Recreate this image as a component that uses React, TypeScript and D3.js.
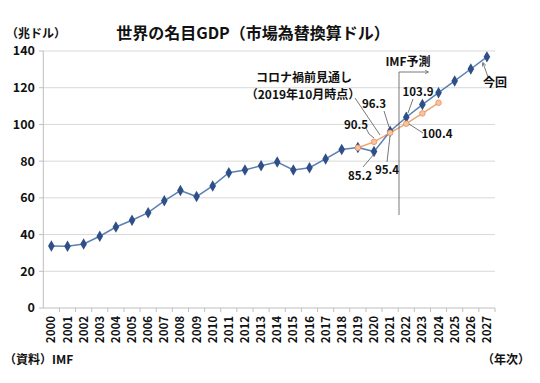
import React from "react";
import * as d3 from "d3";

const years = ["2000","2001","2002","2003","2004","2005","2006","2007","2008","2009","2010","2011","2012","2013","2014","2015","2016","2017","2018","2019","2020","2021","2022","2023","2024","2025","2026","2027"];
const currentValues = [33.8,33.6,34.9,39.1,44.1,47.8,51.9,58.4,64.0,60.7,66.5,73.7,75.2,77.5,79.5,75.2,76.4,81.2,86.3,87.4,85.2,96.3,103.9,110.8,117.3,123.7,130.2,136.8];
const preCovidYears = ["2019","2020","2021","2022","2023","2024"];
const preCovidValues = [87.3,90.5,95.4,100.4,106.0,111.8];
const yTicks = [0,20,40,60,80,100,120,140];

const FONT = "'Noto Sans CJK JP', 'Noto Sans', sans-serif";

export default function App() {
  const W = 540, H = 383;
  const x = d3.scaleBand<string>().domain(years).range([43.3, 495]);
  const y = d3.scaleLinear().domain([0, 140]).range([308, 51]);
  const cx = (yr: string) => (x(yr) as number) + x.bandwidth() / 2;

  const line = d3.line<[string, number]>().x(d => cx(d[0])).y(d => y(d[1]));
  const cur: [string, number][] = years.map((yr, i) => [yr, currentValues[i]]);
  const pre: [string, number][] = preCovidYears.map((yr, i) => [yr, preCovidValues[i]]);
  const diamond = d3.symbol().type(d3.symbolDiamond).size(38)() as string;

  const lbl = { fontFamily: FONT, fontSize: 11.5, fontWeight: 700, fill: "#111" } as const;
  const lead = { stroke: "#555", strokeWidth: 0.8, fill: "none" } as const;

  return (
    <svg width={W} height={H} style={{ position: "absolute", left: 0, top: 0, background: "#fff" }}>
      <defs>
        <marker id="arr" viewBox="0 0 6 6" refX="5" refY="3" markerWidth="5" markerHeight="5" orient="auto">
          <path d="M0,0 L6,3 L0,6" fill="none" stroke="#555" strokeWidth="1" />
        </marker>
      </defs>
      {/* gridlines */}
      {yTicks.filter(t => t > 0).map(t => (
        <line key={t} x1={43.3} x2={495} y1={y(t)} y2={y(t)} stroke="#d9d9d9" strokeWidth={1} />
      ))}
      {/* axes */}
      <line x1={43.3} x2={43.3} y1={51} y2={308} stroke="#bfbfbf" />
      <line x1={43.3} x2={495} y1={308} y2={308} stroke="#bfbfbf" />
      {yTicks.map(t => (
        <g key={t}>
          <line x1={39} x2={43.3} y1={y(t)} y2={y(t)} stroke="#bfbfbf" />
          <text x={35} y={y(t)} dy="0.35em" textAnchor="end" style={{ fontFamily: FONT, fontSize: 12.5, fontWeight: 600, fill: "#111" }}>{t}</text>
        </g>
      ))}
      {years.map(yr => (
        <g key={yr}>
          <line x1={(x(yr) as number) + x.bandwidth()} x2={(x(yr) as number) + x.bandwidth()} y1={308} y2={312} stroke="#bfbfbf" />
          <text transform={`translate(${cx(yr)},316) rotate(-90)`} dy="0.35em" textAnchor="end" style={{ fontFamily: FONT, fontSize: 11.5, fontWeight: 600, fill: "#111" }}>{yr}</text>
        </g>
      ))}

      {/* series */}
      <path d={line(pre) as string} stroke="#f0a36e" strokeWidth={1.5} fill="none" />
      <path d={line(cur) as string} stroke="#5a80b4" strokeWidth={1.5} fill="none" />
      {cur.map(d => (
        <path key={d[0]} d={diamond} transform={`translate(${cx(d[0])},${y(d[1])})`} fill="#2f4f88" />
      ))}
      {pre.map(d => (
        <circle key={d[0]} cx={cx(d[0])} cy={y(d[1])} r={2.8} fill="#f6c3a0" stroke="#e8925a" strokeWidth={0.8} />
      ))}

      {/* title & axis titles */}
      <text x={253} y={33} dy="0.35em" textAnchor="middle" style={{ fontFamily: FONT, fontSize: 16, fontWeight: 700, fill: "#111" }}>世界の名目GDP（市場為替換算ドル）</text>
      <text x={6} y={34} dy="0.35em" style={{ fontFamily: FONT, fontSize: 12, fontWeight: 600, fill: "#111" }}>（兆ドル）</text>
      <text x={4} y={360} dy="0.35em" style={{ fontFamily: FONT, fontSize: 12, fontWeight: 600, fill: "#111" }}>（資料）IMF</text>
      <text x={530} y={360} dy="0.35em" textAnchor="end" style={{ fontFamily: FONT, fontSize: 12, fontWeight: 600, fill: "#111" }}>（年次）</text>

      {/* annotations */}
      <text x={304} y={78} dy="0.35em" textAnchor="middle" style={{ ...lbl, fontSize: 12 }}>コロナ禍前見通し</text>
      <text x={303} y={95} dy="0.35em" textAnchor="middle" style={{ ...lbl, fontSize: 12 }}>（2019年10月時点）</text>
      <line x1={355} y1={98} x2={380} y2={135} {...lead} />

      <text x={408} y={62} dy="0.35em" textAnchor="middle" style={{ ...lbl, fontSize: 12 }}>IMF予測</text>
      <polyline points="399,215 399,72 428,72" {...lead} markerEnd="url(#arr)" />

      <text x={495} y={83} dy="0.35em" textAnchor="middle" style={{ ...lbl, fontSize: 12 }}>今回</text>
      <line x1={488} y1={77} x2={483} y2={63} {...lead} markerEnd="url(#arr)" />

      <text x={356} y={125} dy="0.35em" textAnchor="middle" style={lbl}>90.5</text>
      <polyline points="366,128 369,134 374,138" {...lead} />
      <text x={360} y={176} dy="0.35em" textAnchor="middle" style={lbl}>85.2</text>
      <line x1={363} y1={167} x2={374} y2={154} {...lead} />
      <text x={387} y={170} dy="0.35em" textAnchor="middle" style={lbl}>95.4</text>
      <line x1={387} y1={162} x2={390} y2={136} {...lead} />
      <text x={374} y={104} dy="0.35em" textAnchor="middle" style={lbl}>96.3</text>
      <line x1={384} y1={111} x2={389} y2={127} {...lead} />
      <text x={418} y={92} dy="0.35em" textAnchor="middle" style={lbl}>103.9</text>
      <line x1={413} y1={99} x2={408} y2={113} {...lead} />
      <text x={437} y={134} dy="0.35em" textAnchor="middle" style={lbl}>100.4</text>
      <line x1={423} y1={133} x2={409} y2={124} {...lead} />
    </svg>
  );
}
